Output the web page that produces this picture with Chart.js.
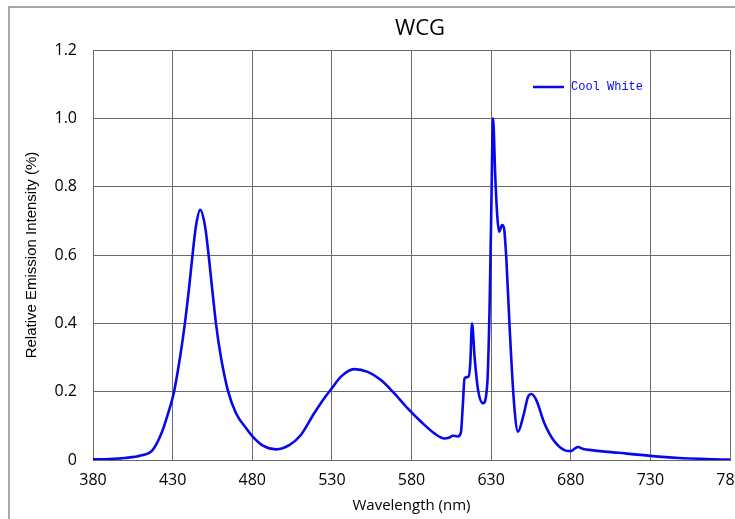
<!DOCTYPE html>
<html>
<head>
<meta charset="utf-8">
<script src="https://cdn.jsdelivr.net/npm/chart.js@4.4.1/dist/chart.umd.min.js"></script>
<style>
html,body{margin:0;padding:0;background:#fff;}
#wrap{position:relative;width:735px;height:519px;}
</style>
</head>
<body>
<div id="wrap"><canvas id="c" width="735" height="519"></canvas></div>
<script>
const chartTitle = "WCG";
const seriesLabel = "Cool White";
const wavelengths = [380, 390, 400, 410, 417.4, 423, 427.2, 430.9, 434.7, 437.7, 440.4, 442.5, 444.6, 447.3, 450.4, 452.6, 454.7, 457.2, 460.3, 464.9, 469.8, 477, 480, 487, 495, 503.5, 510.5, 518.9, 525.2, 530, 535.7, 544, 552.5, 560.8, 569.2, 577.6, 586, 594.4, 600.7, 603.4, 606, 609.1, 611, 612.3, 613.3, 615.8, 616.9, 618, 619.6, 621.8, 624.9, 627.6, 629, 630.1, 631.2, 632.6, 633.9, 635, 636.9, 638.1, 639.6, 641.6, 644.4, 646.9, 650.1, 653.2, 655.3, 658.3, 663.5, 669.8, 676, 680, 682.5, 684.5, 688, 693, 710, 730, 748, 765, 780];
const intensity = [0.002, 0.003, 0.006, 0.013, 0.029, 0.078, 0.137, 0.2, 0.302, 0.4, 0.507, 0.6, 0.683, 0.732, 0.683, 0.6, 0.507, 0.4, 0.302, 0.2, 0.137, 0.088, 0.07, 0.041, 0.031, 0.044, 0.073, 0.137, 0.181, 0.21, 0.244, 0.266, 0.258, 0.234, 0.195, 0.151, 0.112, 0.078, 0.063, 0.065, 0.071, 0.069, 0.08, 0.166, 0.239, 0.244, 0.283, 0.4, 0.302, 0.205, 0.166, 0.224, 0.439, 0.732, 1.0, 0.829, 0.712, 0.668, 0.688, 0.678, 0.585, 0.39, 0.166, 0.083, 0.127, 0.185, 0.193, 0.176, 0.107, 0.054, 0.029, 0.026, 0.033, 0.038, 0.032, 0.029, 0.021, 0.012, 0.006, 0.003, 0.001];
const xTicks = [380, 430, 480, 530, 580, 630, 680, 730, 780];
const yTicks = [0, 0.2, 0.4, 0.6, 0.8, 1.0, 1.2];
const xTitle = "Wavelength (nm)";
const yTitle = "Relative Emission Intensity (%)";

const points = wavelengths.map((w, i) => ({x: w, y: intensity[i]}));
const lineColor = "rgb(8,8,235)";

const decor = {
  id: "decor",
  beforeDraw(chart) {
    const ctx = chart.ctx;
    ctx.save();
    ctx.fillStyle = "#fff";
    ctx.fillRect(0, 0, chart.width, chart.height);
    ctx.strokeStyle = "#8c8c8c";
    ctx.lineWidth = 1.5;
    ctx.strokeRect(9, 7, 800, 600);
    ctx.restore();
  },
  afterDraw(chart) {
    const ctx = chart.ctx;
    ctx.save();
    ctx.fillStyle = "#000";
    ctx.font = "22px 'Open Sans'";
    ctx.textAlign = "center";
    ctx.textBaseline = "middle";
    ctx.fillText(chartTitle, 420, 29);
    ctx.strokeStyle = lineColor;
    ctx.lineWidth = 2.5;
    ctx.beginPath();
    ctx.moveTo(533, 87);
    ctx.lineTo(564, 87);
    ctx.stroke();
    ctx.fillStyle = lineColor;
    ctx.font = "12px 'Liberation Mono'";
    ctx.textAlign = "left";
    ctx.fillText(seriesLabel, 571, 87);
    ctx.restore();
  }
};

new Chart(document.getElementById("c"), {
  type: "line",
  data: {
    datasets: [{
      label: seriesLabel,
      data: points,
      borderColor: lineColor,
      borderWidth: 2.6,
      pointRadius: 0,
      fill: false,
      cubicInterpolationMode: "monotone"
    }]
  },
  options: {
    responsive: false,
    animation: false,
    devicePixelRatio: 1,
    layout: {padding: {top: 50, right: 5, left: 23, bottom: 4}},
    plugins: {legend: {display: false}, tooltip: {enabled: false}},
    scales: {
      x: {
        type: "linear",
        min: 380, max: 780,
        afterBuildTicks(s) { s.ticks = xTicks.map(v => ({value: v})); },
        afterFit(s) { s.height = 55; s.paddingLeft = 0; s.paddingRight = 0; },
        grid: {color: "#6a6a6a", lineWidth: 1, drawTicks: false},
        border: {color: "#6a6a6a", width: 1},
        ticks: {color: "#000", font: {family: "'Open Sans'", size: 16}, padding: 11, maxRotation: 0},
        title: {display: true, text: xTitle, color: "#000", font: {family: "'Open Sans'", size: 15}, padding: {top: 2, bottom: 0}}
      },
      y: {
        min: 0, max: 1.2,
        afterBuildTicks(s) { s.ticks = yTicks.map(v => ({value: v})); },
        afterFit(s) { s.width = 70; s.paddingTop = 0; s.paddingBottom = 0; },
        grid: {color: "#6a6a6a", lineWidth: 1, drawTicks: false},
        border: {color: "#6a6a6a", width: 1},
        ticks: {color: "#000", font: {family: "'Open Sans'", size: 16}, padding: 16,
          callback: v => v === 0 ? "0" : v.toFixed(1)},
        title: {display: true, text: yTitle, color: "#000", font: {family: "'Liberation Sans'", size: 15}, padding: {top: 0, bottom: 4}}
      }
    }
  },
  plugins: [decor]
});
</script>
</body>
</html>
